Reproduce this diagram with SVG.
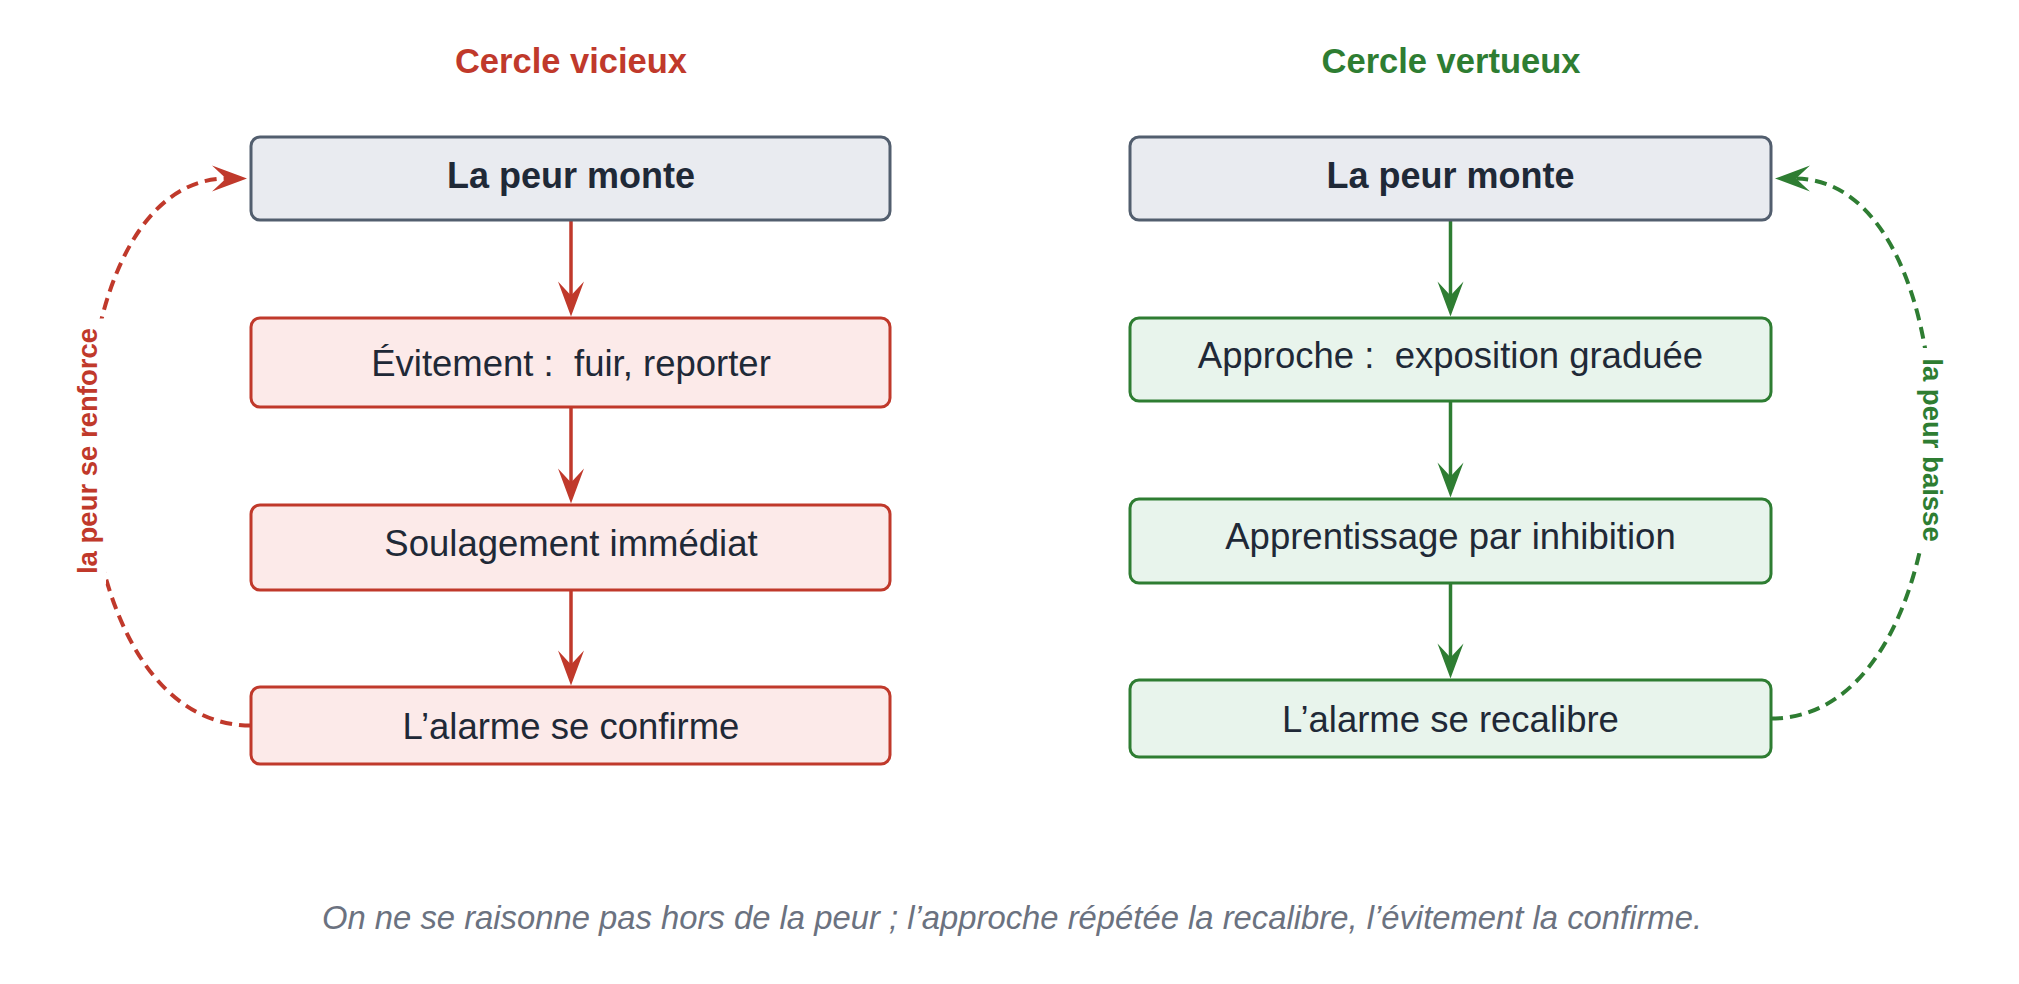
<svg xmlns="http://www.w3.org/2000/svg" width="2019" height="984" viewBox="0 0 2019 984">
  <style>
    .title { font-family: "Liberation Sans", Arial, sans-serif; font-weight: bold; font-size: 34.5px; text-anchor: middle; }
    .red { fill: #c0392b; }
    .green { fill: #2e7d32; }
    .box-neutral { fill: #e9ebf0; stroke: #525e6e; stroke-width: 3; }
    .box-red { fill: #fceae9; stroke: #c0392b; stroke-width: 3; }
    .box-green { fill: #e8f4ec; stroke: #2e7d32; stroke-width: 3; }
    .t { font-family: "Liberation Sans", Arial, sans-serif; font-size: 36.5px; fill: #1f2937; text-anchor: middle; }
    .tb { font-weight: bold; font-size: 36px; }
    .arr-red { fill: none; stroke: #c0392b; stroke-width: 3.5; }
    .arr-green { fill: none; stroke: #2e7d32; stroke-width: 3.5; }
    .dash { stroke-width: 4; stroke-dasharray: 12 7; }
    .lbl { font-family: "Liberation Sans", Arial, sans-serif; font-weight: bold; font-size: 27.5px; text-anchor: middle; }
    .caption { font-family: "Liberation Sans", Arial, sans-serif; font-style: italic; font-size: 32.8px; fill: #6b7280; text-anchor: middle; }
  </style>
  <defs>
    <marker id="ah-red" markerUnits="userSpaceOnUse" markerWidth="44" markerHeight="32" viewBox="-22 -16 44 32" refX="0" refY="0" orient="auto">
      <path d="M20,0 L-15,-13 L-1,0 L-15,13 Z" fill="#c0392b"/>
    </marker>
    <marker id="ah-green" markerUnits="userSpaceOnUse" markerWidth="44" markerHeight="32" viewBox="-22 -16 44 32" refX="0" refY="0" orient="auto">
      <path d="M20,0 L-15,-13 L-1,0 L-15,13 Z" fill="#2e7d32"/>
    </marker>
  </defs>
  <rect width="2019" height="984" fill="#ffffff"/>

  <g id="titles">
    <text id="title-vicieux" class="title red" x="571" y="73">Cercle vicieux</text>
    <text id="title-vertueux" class="title green" x="1451" y="73">Cercle vertueux</text>
  </g>

  <g id="connectors">
    <path class="arr-red" d="M571 220 L571 296.5" marker-end="url(#ah-red)"/>
    <path class="arr-red" d="M571 407 L571 483.5" marker-end="url(#ah-red)"/>
    <path class="arr-red" d="M571 590 L571 665.5" marker-end="url(#ah-red)"/>
    <path class="arr-green" d="M1450.5 220 L1450.5 296.5" marker-end="url(#ah-green)"/>
    <path class="arr-green" d="M1450.5 401 L1450.5 477.5" marker-end="url(#ah-green)"/>
    <path class="arr-green" d="M1450.5 583 L1450.5 658.5" marker-end="url(#ah-green)"/>
    <path class="arr-red dash" d="M251 725.5 C37 725.5 37 178.5 227 178.5" marker-end="url(#ah-red)"/>
    <path class="arr-green dash" d="M1771 718.5 C1982 718.5 1982 178.5 1795 178.5" marker-end="url(#ah-green)"/>
    <g id="label-renforce">
      <rect x="73" y="318.5" width="33" height="266" fill="#ffffff"/>
      <text class="lbl red" transform="translate(97,451) rotate(-90)" x="0" y="0">la peur se renforce</text>
    </g>
    <g id="label-baisse">
      <rect x="1914" y="348" width="33" height="205" fill="#ffffff"/>
      <text class="lbl green" transform="translate(1923,450) rotate(90)" x="0" y="0">la peur baisse</text>
    </g>
  </g>

  <g id="node-l1">
    <rect class="box-neutral" x="251" y="137" width="639" height="83" rx="9"/>
    <text class="t tb" x="571" y="188">La peur monte</text>
  </g>
  <g id="node-l2">
    <rect class="box-red" x="251" y="318" width="639" height="89" rx="9"/>
    <text class="t" x="571" y="376">Évitement :&#160; fuir, reporter</text>
  </g>
  <g id="node-l3">
    <rect class="box-red" x="251" y="505" width="639" height="85" rx="9"/>
    <text class="t" x="571" y="556">Soulagement immédiat</text>
  </g>
  <g id="node-l4">
    <rect class="box-red" x="251" y="687" width="639" height="77" rx="9"/>
    <text class="t" x="571" y="739">L’alarme se confirme</text>
  </g>

  <g id="node-r1">
    <rect class="box-neutral" x="1130" y="137" width="641" height="83" rx="9"/>
    <text class="t tb" x="1450.5" y="188">La peur monte</text>
  </g>
  <g id="node-r2">
    <rect class="box-green" x="1130" y="318" width="641" height="83" rx="9"/>
    <text class="t" x="1450.5" y="368">Approche :&#160; exposition graduée</text>
  </g>
  <g id="node-r3">
    <rect class="box-green" x="1130" y="499" width="641" height="84" rx="9"/>
    <text class="t" x="1450.5" y="549">Apprentissage par inhibition</text>
  </g>
  <g id="node-r4">
    <rect class="box-green" x="1130" y="680" width="641" height="77" rx="9"/>
    <text class="t" x="1450.5" y="732">L’alarme se recalibre</text>
  </g>

  <g id="caption">
    <text class="caption" x="1012" y="929">On ne se raisonne pas hors de la peur ; l’approche répétée la recalibre, l’évitement la confirme.</text>
  </g>
</svg>
